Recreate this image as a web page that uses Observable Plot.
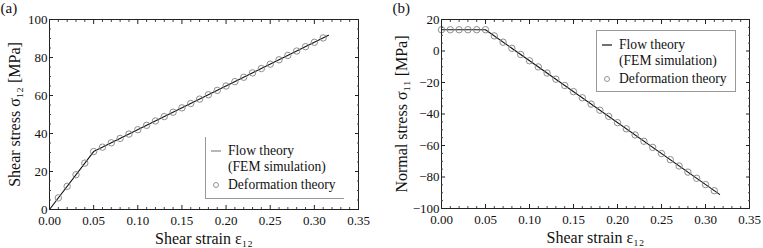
<!DOCTYPE html>
<html>
<head>
<meta charset="utf-8">
<script src="https://cdn.jsdelivr.net/npm/d3@7"></script>
<script src="https://cdn.jsdelivr.net/npm/@observablehq/plot@0.6"></script>
<style>
  body { margin: 0; background: #fff; }
  #wrap { position: relative; width: 763px; height: 248px; font-family: "Liberation Serif", serif; color: #111; }
  #wrap svg, #wrap svg text, #wrap svg g { font-family: "Liberation Serif", serif !important; }
  .panel { position: absolute; top: 0; }
  .legend { position: absolute; box-sizing: border-box; background: #fff; }
  .legend .t { position: absolute; font-size: 13.6px; line-height: 14px; white-space: nowrap; }
  .legend svg { position: absolute; left: 0; top: 0; overflow: visible; }
</style>
</head>
<body>
<div id="wrap"></div>
<script>
// ---- data ----
const xMajorTicks = [0, 0.05, 0.10, 0.15, 0.20, 0.25, 0.30, 0.35];
const xMinorTicks = [0.01,0.02,0.03,0.04,0.06,0.07,0.08,0.09,0.11,0.12,0.13,0.14,0.16,0.17,0.18,0.19,0.21,0.22,0.23,0.24,0.26,0.27,0.28,0.29,0.31,0.32,0.33,0.34];
const leftYMajorTicks = [0, 20, 40, 60, 80, 100];
const leftYMinorTicks = [5,10,15,25,30,35,45,50,55,65,70,75,85,90,95];
const rightYMajorTicks = [-100, -80, -60, -40, -20, 0, 20];
const rightYMinorTicks = [-95,-90,-85,-75,-70,-65,-55,-50,-45,-35,-30,-25,-15,-10,-5,5,10,15];

// (a) shear stress
const flowStrainA = [0, 0.05, 0.316];
const flowStressA = [0, 30.5, 91.7];
const defStrainA = [0.01,0.02,0.03,0.04,0.05,0.06,0.07,0.08,0.09,0.10,0.11,0.12,0.13,0.14,0.15,0.16,0.17,0.18,0.19,0.20,0.21,0.22,0.23,0.24,0.25,0.26,0.27,0.28,0.29,0.30,0.31];
const defStressA = [6.1,12.2,18.3,24.4,30.5,32.8,35.1,37.4,39.7,42.0,44.3,46.6,48.9,51.2,53.5,55.8,58.1,60.4,62.7,65.0,67.3,69.6,71.9,74.2,76.5,78.8,81.1,83.4,85.7,88.0,90.3];

// (b) normal stress
const flowStrainB = [0, 0.05, 0.316];
const flowStressB = [13.5, 13.5, -91.0];
const defStrainB = [0.00,0.01,0.02,0.03,0.04,0.05,0.06,0.07,0.08,0.09,0.10,0.11,0.12,0.13,0.14,0.15,0.16,0.17,0.18,0.19,0.20,0.21,0.22,0.23,0.24,0.25,0.26,0.27,0.28,0.29,0.30,0.31];
const defStressB = [13.5,13.5,13.5,13.5,13.5,13.5,9.6,5.6,1.7,-2.2,-6.2,-10.1,-14.0,-17.9,-21.9,-25.8,-29.7,-33.7,-37.6,-41.5,-45.5,-49.4,-53.3,-57.3,-61.2,-65.1,-69.0,-73.0,-76.9,-80.8,-84.8,-88.7];

const xLabel = "Shear strain ε₁₂";
const yLabelA = "Shear stress σ₁₂ [MPa]";
const yLabelB = "Normal stress σ₁₁ [MPa]";

const FONT = "'Liberation Serif', serif";

function panel({width, margins, yDomain, yMajor, yMinor, fx, fy, dx, dy, yLabel, yLabelDx, tag, tagDx}) {
  const flow = fx.map((x, i) => ({x, y: fy[i]}));
  const def = dx.map((x, i) => ({x, y: dy[i]}));
  return Plot.plot({
    width, height: 248,
    marginLeft: margins[0], marginRight: margins[1], marginTop: margins[2], marginBottom: margins[3],
    style: {fontFamily: FONT, fontSize: "12.5px", color: "#111", background: "transparent", overflow: "visible"},
    x: {domain: [0, 0.35]},
    y: {domain: yDomain},
    marks: [
      Plot.line(flow, {x: "x", y: "y", stroke: "#111", strokeWidth: 1.1}),
      Plot.dot(def, {x: "x", y: "y", r: 3.2, stroke: "#808080", strokeWidth: 0.9, fill: "none"}),
      Plot.frame({stroke: "#222"}),
      // inward ticks
      Plot.axisX({anchor: "bottom", ticks: xMajorTicks, tickSize: -4, fill: "none", stroke: "#222"}),
      Plot.axisX({anchor: "bottom", ticks: xMinorTicks, tickSize: -2, fill: "none", stroke: "#444"}),
      Plot.axisX({anchor: "top", ticks: xMajorTicks, tickSize: -4, fill: "none", stroke: "#222"}),
      Plot.axisX({anchor: "top", ticks: xMinorTicks, tickSize: -2, fill: "none", stroke: "#444"}),
      Plot.axisY({anchor: "left", ticks: yMajor, tickSize: -4, fill: "none", stroke: "#222"}),
      Plot.axisY({anchor: "left", ticks: yMinor, tickSize: -2, fill: "none", stroke: "#444"}),
      Plot.axisY({anchor: "right", ticks: yMajor, tickSize: -4, fill: "none", stroke: "#222"}),
      Plot.axisY({anchor: "right", ticks: yMinor, tickSize: -2, fill: "none", stroke: "#444"}),
      // tick labels
      Plot.axisX({anchor: "bottom", ticks: xMajorTicks, tickSize: 0, tickPadding: 6, tickFormat: d3.format(".2f"), label: null, fill: "#111", fontSize: 13}),
      Plot.axisY({anchor: "left", ticks: yMajor, tickSize: 0, tickPadding: 2, tickFormat: d => d < 0 ? "−" + Math.abs(d) : String(d), label: null, fill: "#111", fontSize: 13}),
      // axis titles
      Plot.text([xLabel], {frameAnchor: "bottom", dy: 34, fontSize: 16, fill: "#111", textAnchor: "middle"}),
      Plot.text([yLabel], {frameAnchor: "left", dx: yLabelDx, rotate: -90, fontSize: 16, fill: "#111", textAnchor: "middle", lineAnchor: "middle"}),
      Plot.text([tag], {frameAnchor: "top-left", dx: tagDx, dy: -17, fontSize: 15, textAnchor: "start", lineAnchor: "top", fill: "#111"})
    ]
  });
}

const wrap = document.getElementById("wrap");

const a = panel({width: 380, margins: [49, 22, 19, 39], yDomain: [0, 100], yMajor: leftYMajorTicks, yMinor: leftYMinorTicks,
  fx: flowStrainA, fy: flowStressA, dx: defStrainA, dy: defStressA, yLabel: yLabelA, yLabelDx: -35, tag: "(a)", tagDx: -49});
a.classList.add("panel"); a.style.left = "0px";
wrap.appendChild(a);

const b = panel({width: 383, margins: [61, 14, 19, 40], yDomain: [-100, 20], yMajor: rightYMajorTicks, yMinor: rightYMinorTicks,
  fx: flowStrainB, fy: flowStressB, dx: defStrainB, dy: defStressB, yLabel: yLabelB, yLabelDx: -40, tag: "(b)", tagDx: -49});
b.classList.add("panel"); b.style.left = "380px";
wrap.appendChild(b);

// legends
function legend({left, top, width, height, border, lineColor}) {
  const d = document.createElement("div");
  d.className = "legend";
  Object.assign(d.style, {left: left + "px", top: top + "px", width: width + "px", height: height + "px"}, border);
  d.innerHTML = `
    <svg width="${width}" height="${height}">
      <line x1="5" x2="15" y1="14" y2="14" stroke="${lineColor}" stroke-width="1.2"/>
      <circle cx="10" cy="48" r="2.5" fill="none" stroke="#888" stroke-width="0.9"/>
    </svg>
    <div class="t" style="left:22px; top:7px">Flow theory</div>
    <div class="t" style="left:22px; top:23px">(FEM simulation)</div>
    <div class="t" style="left:22px; top:41px">Deformation theory</div>`;
  wrap.appendChild(d);
}
legend({left: 205, top: 137, width: 139, height: 62, lineColor: "#888",
  border: {borderLeft: "1px solid #999", borderBottom: "1px solid #999"}});
legend({left: 596, top: 30, width: 140, height: 62, lineColor: "#111",
  border: {border: "1px solid #999"}});
</script>
</body>
</html>
